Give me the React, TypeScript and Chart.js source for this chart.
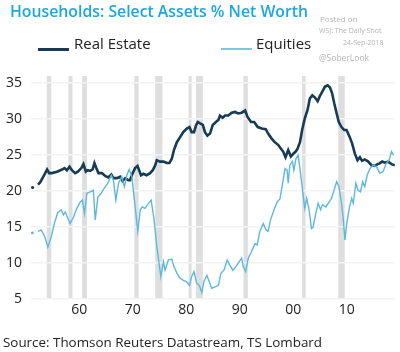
import React, { useEffect, useRef } from "react";
import { Chart, registerables } from "chart.js";

Chart.register(...registerables);

const TITLE = "Households: Select Assets % Net Worth";
const SOURCE = "Source: Thomson Reuters Datastream, TS Lombard";
const SERIES_NAMES = ["Real Estate", "Equities"];
const WATERMARK = ["Posted on", "WSJ: The Daily Shot", "24-Sep-2018", "@SoberLook"];

const X_TICKS = [1960, 1970, 1980, 1990, 2000, 2010];
const Y_TICKS = [5, 10, 15, 20, 25, 30, 35];

const recessionStarts = [1953.95, 1958.0, 1960.55, 1970.3, 1974.2, 1980.45, 1981.8, 1990.7, 2001.65, 2008.4];
const recessionEnds = [1954.8, 1958.75, 1961.45, 1971.1, 1975.55, 1981.0, 1983.1, 1991.5, 2002.3, 2009.6];

const realEstateYears = [
  1951.3, 1951.8, 1952.3, 1952.7, 1953.15, 1953.65, 1954.0, 1954.4, 1954.9, 1955.85, 1956.8, 1957.25, 1957.7,
  1958.2, 1958.65, 1959.25, 1959.75, 1960.4, 1960.8, 1961.25, 1961.6, 1962.05, 1962.5, 1962.85, 1963.2, 1963.6,
  1964.25, 1964.85, 1965.45, 1966.0, 1966.4, 1967.05, 1967.65, 1968.1, 1968.6, 1969.2, 1969.5, 1970.0, 1970.45,
  1970.9, 1971.25, 1971.55, 1972.0, 1972.6, 1973.25, 1973.75, 1974.2, 1974.5, 1975.1, 1975.75, 1976.35, 1976.85,
  1977.3, 1977.7, 1978.25, 1978.85, 1979.45, 1980.1, 1980.6, 1981.0, 1981.45, 1981.85, 1982.15, 1982.6, 1983.1,
  1983.5, 1983.95, 1984.45, 1984.95, 1985.55, 1986.0, 1986.3, 1986.8, 1987.25, 1987.85, 1988.5, 1989.1, 1989.7,
  1990.35, 1991.0, 1991.45, 1992.1, 1992.7, 1993.35, 1994.1, 1994.85, 1995.3, 1995.95, 1996.55, 1997.2, 1997.7,
  1998.1, 1998.55, 1999.05, 1999.55, 2000.0, 2000.45, 2000.8, 2001.25, 2001.65, 2002.15, 2002.65, 2003.1, 2003.55,
  2004.05, 2004.55, 2004.95, 2005.4, 2005.9, 2006.4, 2006.85, 2007.25, 2007.65, 2008.1, 2008.5, 2009.0, 2009.5,
  2009.95, 2010.55, 2011.0, 2011.5, 2012.0, 2012.45, 2012.85, 2013.35, 2014.0, 2014.6, 2015.25, 2015.75, 2016.15,
  2016.6, 2017.1, 2017.7, 2018.35, 2018.95,
];
const realEstateValues = [
  20.5, null, 20.9, 21.2, 21.8, 22.5, 23.0, 22.5, 22.5, 22.7, 23.0, 23.2, 22.9,
  23.4, 22.9, 22.5, 22.7, 23.2, 23.75, 22.7, 22.9, 22.8, 23.0, 23.9, 23.2, 22.5,
  22.5, 22.1, 21.9, 22.3, 21.8, 21.8, 22.0, 21.4, 21.8, 21.5, 21.5, 22.5, 23.2,
  23.5, 22.8, 22.2, 22.4, 22.2, 22.5, 22.9, 23.6, 24.3, 24.1, 24.1, 23.9, 23.9,
  24.5, 25.7, 26.8, 27.5, 28.2, 28.7, 28.9, 28.2, 28.2, 29.2, 29.6, 29.4, 29.2,
  28.2, 27.7, 28.0, 29.2, 29.6, 29.9, 30.5, 30.2, 30.5, 30.5, 30.9, 31.0, 30.8,
  30.9, 31.2, 30.3, 29.6, 29.6, 28.9, 28.7, 28.6, 28.0, 27.3, 26.8, 26.4, 25.9,
  25.5, 24.7, 25.7, 24.8, 25.2, 25.5, 25.9, 26.8, 28.5, 30.1, 31.25, 32.9, 33.3,
  33.0, 32.5, 33.2, 33.8, 34.5, 34.7, 34.4, 33.6, 32.2, 30.8, 29.6, 28.9, 28.5,
  28.5, 27.5, 26.6, 25.2, 24.3, 24.7, 24.2, 24.4, 24.1, 23.6, 23.5, 23.75, 23.85,
  24.1, 23.95, 24.1, 23.75, 23.6,
];

const equitiesYears = [
  1951.25, 1951.8, 1952.3, 1952.9, 1953.55, 1954.15, 1954.8, 1955.4, 1956.0, 1956.65, 1957.05, 1957.4, 1957.9,
  1958.3, 1958.95, 1959.55, 1960.2, 1960.6, 1961.0, 1961.45, 1962.05, 1962.65, 1963.0, 1963.5, 1964.1, 1964.7,
  1965.35, 1966.0, 1966.4, 1966.85, 1967.35, 1967.95, 1968.45, 1968.9, 1969.35, 1969.85, 1970.45, 1970.95, 1971.4,
  1971.8, 1972.3, 1972.95, 1973.45, 1974.0, 1974.5, 1975.25, 1975.75, 1976.05, 1976.65, 1977.3, 1977.7, 1978.25,
  1978.85, 1979.45, 1980.1, 1980.6, 1981.0, 1981.45, 1981.95, 1982.45, 1982.9, 1983.3, 1983.85, 1984.3, 1984.75,
  1985.35, 1986.0, 1986.5, 1987.05, 1987.65, 1988.15, 1988.7, 1989.3, 1989.9, 1990.35, 1990.65, 1991.1, 1991.6,
  1992.2, 1992.85, 1993.25, 1993.75, 1994.4, 1994.9, 1995.3, 1995.75, 1996.4, 1997.0, 1997.5, 1998.1, 1998.45,
  1998.85, 1999.05, 1999.35, 1999.85, 2000.1, 2000.5, 2000.9, 2001.35, 2001.85, 2002.15, 2002.5, 2002.95, 2003.4,
  2003.7, 2004.2, 2004.65, 2005.1, 2005.45, 2006.1, 2006.7, 2007.15, 2007.6, 2008.1, 2008.55, 2009.0, 2009.3,
  2009.65, 2009.95, 2010.45, 2010.9, 2011.2, 2011.7, 2012.1, 2012.55, 2012.95, 2013.35, 2013.8, 2014.3, 2014.9,
  2015.55, 2016.15, 2016.75, 2017.4, 2017.9, 2018.35, 2018.75,
];
const equitiesValues = [
  14.2, null, 14.4, 14.6, 13.7, 12.2, 13.7, 15.6, 17.0, 17.4, 16.7, 17.1, 16.2,
  15.5, 16.4, 17.6, 18.5, 18.75, 16.9, 19.7, 19.9, 20.1, 16.0, 19.2, 19.7, 20.4,
  21.1, 22.2, 21.5, 18.75, 21.1, 22.0, 20.6, 22.2, 23.0, 22.0, 17.8, 14.4, 17.4,
  17.8, 17.6, 18.3, 18.75, 16.0, 12.3, 8.1, 10.2, 9.0, 10.4, 10.55, 9.5, 8.6,
  7.9, 7.6, 7.4, 6.9, 8.1, 8.8, 7.2, 6.9, 5.9, 7.4, 8.3, 7.4, 6.5,
  6.7, 6.9, 8.6, 9.0, 10.4, 9.7, 9.0, 9.5, 10.2, 10.7, 9.5, 8.8, 10.7,
  11.6, 12.7, 12.5, 14.4, 15.5, 14.6, 14.4, 16.0, 17.4, 18.5, 18.9, 21.5, 23.1,
  22.9, 21.1, 23.6, 24.1, 22.9, 24.5, 25.0, 22.5, 19.4, 17.6, 19.0, 17.4, 14.8,
  15.0, 16.9, 18.3, 17.4, 18.1, 17.8, 18.5, 19.0, 20.1, 21.3, 20.6, 18.3, 16.4,
  13.2, 15.3, 17.6, 19.0, 18.3, 21.1, 20.1, 19.9, 21.3, 20.6, 22.2, 23.1, 23.6,
  23.4, 22.5, 22.7, 23.9, 24.3, 25.5, 25.0,
];

const RE_COLOR = "#163b52";
const EQ_COLOR = "#5db8dc";
const FONT = "'Open Sans', sans-serif";

const toPoints = (xs: number[], ys: (number | null)[]) => xs.map((x, i) => ({ x, y: ys[i] }));

const recessionPlugin = {
  id: "recessions",
  beforeDraw(chart: any) {
    const { ctx, chartArea, scales } = chart;
    const xs = scales.x;
    ctx.save();
    ctx.fillStyle = "#dedede";
    recessionStarts.forEach((s, i) => {
      const x0 = xs.getPixelForValue(s);
      const x1 = xs.getPixelForValue(recessionEnds[i]);
      ctx.fillRect(x0, chartArea.top, x1 - x0, chartArea.bottom - chartArea.top);
    });
    ctx.restore();
  },
};

export default function App() {
  const ref = useRef<HTMLCanvasElement | null>(null);

  useEffect(() => {
    document.body.style.margin = "0";
    const chart = new Chart(ref.current as HTMLCanvasElement, {
      type: "line",
      data: {
        datasets: [
          {
            label: SERIES_NAMES[0],
            data: toPoints(realEstateYears, realEstateValues),
            borderColor: RE_COLOR,
            backgroundColor: RE_COLOR,
            borderWidth: 2.6,
            pointRadius: (c: any) => (c.dataIndex === 0 ? 1.6 : 0),
            pointBorderWidth: 0,
            spanGaps: false,
            tension: 0,
            order: 2,
          },
          {
            label: SERIES_NAMES[1],
            data: toPoints(equitiesYears, equitiesValues),
            borderColor: EQ_COLOR,
            backgroundColor: EQ_COLOR,
            borderWidth: 1.4,
            pointRadius: (c: any) => (c.dataIndex === 0 ? 1.4 : 0),
            pointBorderWidth: 0,
            spanGaps: false,
            tension: 0,
            order: 1,
          },
        ],
      },
      options: {
        animation: false,
        responsive: false,
        devicePixelRatio: 1,
        layout: { padding: { top: 76, left: 5, right: 5, bottom: 33 } },
        plugins: { legend: { display: false }, tooltip: { enabled: false }, title: { display: false } },
        scales: {
          x: {
            type: "linear",
            min: 1951,
            max: 2019,
            grid: { display: false, drawTicks: false },
            border: { display: false },
            afterBuildTicks: (s: any) => {
              s.ticks = X_TICKS.map((v) => ({ value: v }));
            },
            afterFit: (s: any) => {
              s.height = 20;
            },
            ticks: {
              color: "#222",
              font: { family: FONT, size: 14 },
              padding: 3,
              maxRotation: 0,
              callback: (v: any) => String(Number(v) % 100).padStart(2, "0"),
            },
          },
          y: {
            min: 5,
            max: 36,
            grid: { color: "#f3f3f3", lineWidth: 1.5, drawTicks: false },
            border: { display: false },
            afterBuildTicks: (s: any) => {
              s.ticks = Y_TICKS.map((v) => ({ value: v }));
            },
            afterFit: (s: any) => {
              s.width = 26;
            },
            ticks: {
              color: "#222",
              font: { family: FONT, size: 14 },
              padding: 9,
            },
          },
        },
      },
      plugins: [recessionPlugin],
    } as any);
    return () => chart.destroy();
  }, []);

  const wm: React.CSSProperties = { position: "absolute", color: "#b4b4b4", fontFamily: FONT, whiteSpace: "nowrap" };

  return (
    <div style={{ position: "fixed", left: 0, top: 0, width: 400, height: 352, background: "#fff", overflow: "hidden" }}>
      <canvas ref={ref} width={400} height={352} style={{ position: "absolute", left: 0, top: 0, width: 400, height: 352 }} />
      <div
        style={{
          position: "absolute", left: 10, top: 3, fontFamily: FONT, fontWeight: 600, fontSize: 15.8, lineHeight: "16px",
          color: "#1aa8df", whiteSpace: "nowrap",
        }}
      >
        {TITLE}
      </div>
      <div style={{ position: "absolute", left: 38, top: 47.5, width: 31, height: 3, background: RE_COLOR }} />
      <div style={{ position: "absolute", left: 74, top: 36, fontFamily: FONT, fontSize: 15, lineHeight: "15px", color: "#222", whiteSpace: "nowrap" }}>
        {SERIES_NAMES[0]}
      </div>
      <div style={{ position: "absolute", left: 221, top: 48, width: 31, height: 2, background: "#7cc6e2" }} />
      <div style={{ position: "absolute", left: 256, top: 36, fontFamily: FONT, fontSize: 15, lineHeight: "15px", color: "#222", whiteSpace: "nowrap" }}>
        {SERIES_NAMES[1]}
      </div>
      <div style={{ ...wm, left: 320, top: 13, fontSize: 8 }}>{WATERMARK[0]}</div>
      <div style={{ ...wm, left: 319, top: 26, fontSize: 7 }}>{WATERMARK[1]}</div>
      <div style={{ ...wm, left: 343, top: 38, fontSize: 7 }}>{WATERMARK[2]}</div>
      <div style={{ ...wm, left: 319, top: 52, fontSize: 8.5 }}>{WATERMARK[3]}</div>
      <div style={{ position: "absolute", left: 3, top: 336, fontFamily: FONT, fontSize: 13.4, lineHeight: "13.4px", color: "#222", whiteSpace: "nowrap" }}>
        {SOURCE}
      </div>
    </div>
  );
}
